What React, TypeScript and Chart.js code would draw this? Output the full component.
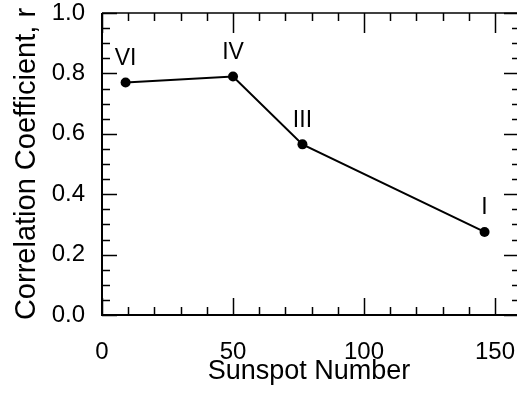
import React, { useEffect, useRef } from 'react';
import { Chart, registerables } from 'chart.js';

Chart.register(...registerables);

// ---- data ----
const sunspotNumber = [9, 50, 76.5, 146];
const correlation = [0.77, 0.79, 0.565, 0.275];
const pointLabels = ['VI', 'IV', 'III', 'I'];

const xTickValues = [0, 50, 100, 150];
const xTickLabels = ['0', '50', '100', '150'];
const yTickValues = [0, 0.2, 0.4, 0.6, 0.8, 1.0];
const yTickLabels = ['0.0', '0.2', '0.4', '0.6', '0.8', '1.0'];

const xTitle = 'Sunspot Number';
const yTitle = 'Correlation Coefficient, r';

const FONT = "'Liberation Sans', Arial, Helvetica, sans-serif";

const frameTicksPlugin = {
  id: 'frameTicks',
  afterDraw(chart: any) {
    const { ctx, chartArea } = chart;
    const { left, right, top, bottom } = chartArea;
    const xs = chart.scales.x;
    const ys = chart.scales.y;
    ctx.save();
    ctx.strokeStyle = '#000';
    ctx.lineCap = 'butt';
    ctx.lineWidth = 2;
    ctx.beginPath();
    ctx.moveTo(left, top);
    ctx.lineTo(left, bottom);
    ctx.lineTo(right + 1, bottom);
    ctx.stroke();
    ctx.lineWidth = 1.5;
    ctx.beginPath();
    ctx.moveTo(left, top);
    ctx.lineTo(right + 1, top);
    ctx.stroke();
    ctx.lineWidth = 1.5;
    for (let i = 0; i <= 15; i++) {
      const v = i * 10;
      const px = Math.round(xs.getPixelForValue(v)) + 0.5;
      const major = i % 5 === 0;
      const lenB = major ? 17 : 8;
      const lenT = major ? 20 : 8;
      ctx.beginPath();
      ctx.moveTo(px, bottom);
      ctx.lineTo(px, bottom - lenB);
      ctx.moveTo(px, top);
      ctx.lineTo(px, top + lenT);
      ctx.stroke();
    }
    for (let i = 0; i <= 20; i++) {
      const v = i * 0.05;
      const py = Math.round(ys.getPixelForValue(v)) + 0.5;
      const major = i % 4 === 0;
      const lenL = major ? 15 : 8;
      const lenR = major ? 13 : 5;
      ctx.beginPath();
      ctx.moveTo(left, py);
      ctx.lineTo(left + lenL, py);
      ctx.moveTo(right + 1, py);
      ctx.lineTo(right + 1 - lenR, py);
      ctx.stroke();
    }
    ctx.restore();
  },
};

const pointLabelPlugin = {
  id: 'pointLabels',
  afterDatasetsDraw(chart: any) {
    const { ctx } = chart;
    const meta = chart.getDatasetMeta(0);
    ctx.save();
    ctx.fillStyle = '#000';
    ctx.font = `23px ${FONT}`;
    ctx.textAlign = 'center';
    ctx.textBaseline = 'middle';
    meta.data.forEach((pt: any, i: number) => {
      ctx.fillText(pointLabels[i], pt.x, pt.y - 24);
    });
    ctx.restore();
  },
};

export default function App() {
  const canvasRef = useRef<HTMLCanvasElement | null>(null);

  useEffect(() => {
    document.body.style.margin = '0';
    const canvas = canvasRef.current;
    if (!canvas) return;
    const chart = new Chart(canvas, {
      type: 'line',
      data: {
        datasets: [
          {
            data: sunspotNumber.map((x, i) => ({ x, y: correlation[i] })),
            borderColor: '#000',
            backgroundColor: '#000',
            borderWidth: 2,
            pointRadius: 5,
            pointBackgroundColor: '#000',
            pointBorderColor: '#000',
            pointBorderWidth: 0,
            tension: 0,
            fill: false,
          },
        ],
      },
      options: {
        animation: false,
        responsive: false,
        devicePixelRatio: 1,
        layout: { padding: { top: 13, right: 1, bottom: 0, left: 0 } },
        plugins: {
          legend: { display: false },
          tooltip: { enabled: false },
        },
        scales: {
          x: {
            type: 'linear',
            min: 0,
            max: 158,
            grid: { display: false },
            border: { display: false },
            afterBuildTicks: (scale: any) => {
              scale.ticks = xTickValues.map((v) => ({ value: v }));
            },
            afterFit: (scale: any) => {
              scale.height = 78;
              scale.paddingLeft = 0;
              scale.paddingRight = 0;
            },
            ticks: {
              autoSkip: false,
              maxRotation: 0,
              padding: 15,
              color: '#000',
              font: { family: FONT, size: 24 },
              callback: (v: any) => {
                const idx = xTickValues.indexOf(Number(v));
                return idx >= 0 ? xTickLabels[idx] : '';
              },
            },
            title: {
              display: true,
              text: xTitle,
              color: '#000',
              font: { family: FONT, size: 27 },
              padding: { top: 0, bottom: 5 },
            },
          },
          y: {
            type: 'linear',
            min: 0,
            max: 1,
            grid: { display: false },
            border: { display: false },
            afterBuildTicks: (scale: any) => {
              scale.ticks = yTickValues.map((v) => ({ value: v }));
            },
            afterFit: (scale: any) => {
              scale.width = 102;
              scale.paddingTop = 0;
              scale.paddingBottom = 0;
            },
            ticks: {
              autoSkip: false,
              padding: 9,
              color: '#000',
              font: { family: FONT, size: 24 },
              callback: (v: any) => {
                const idx = yTickValues.findIndex((t) => Math.abs(t - Number(v)) < 1e-6);
                return idx >= 0 ? yTickLabels[idx] : '';
              },
            },
            title: {
              display: true,
              text: yTitle,
              color: '#000',
              font: { family: FONT, size: 29 },
              padding: { top: 10, bottom: 0 },
            },
          },
        },
      },
      plugins: [frameTicksPlugin, pointLabelPlugin],
    } as any);
    return () => chart.destroy();
  }, []);

  return (
    <div style={{ width: 521, height: 393, background: '#fff' }}>
      <canvas ref={canvasRef} width={521} height={393} />
    </div>
  );
}
